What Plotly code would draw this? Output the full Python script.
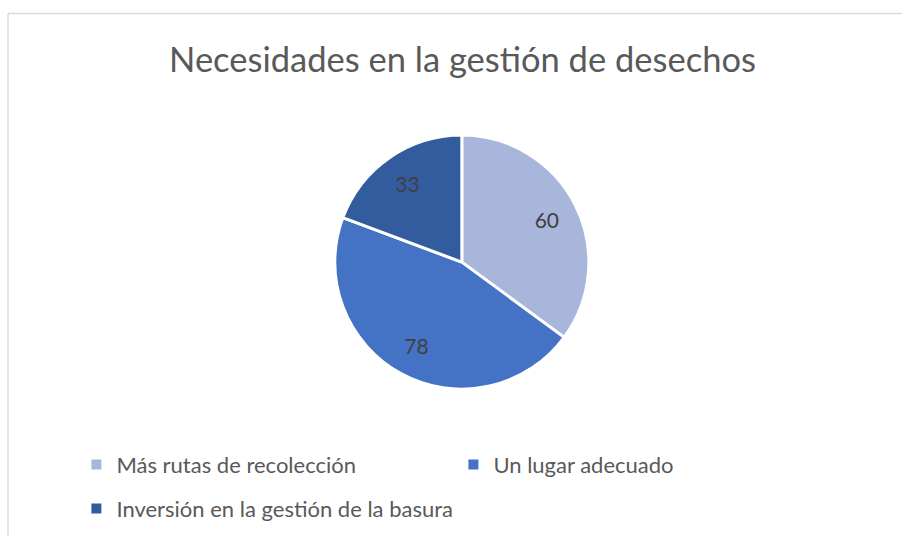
import plotly.graph_objects as go

categories = ["Más rutas de recolección", "Un lugar adecuado", "Inversión en la gestión de la basura"]
values = [60, 78, 33]
colors = ["#A9B6DC", "#4473C5", "#335C9F"]

pie_domain = dict(x=[0.3710, 0.6530], y=[0.274, 0.748])

fig = go.Figure()
# Filled slices
fig.add_trace(go.Pie(
    labels=categories, values=values, sort=False,
    direction="clockwise", rotation=0,
    marker=dict(colors=colors, line=dict(color="white", width=3)),
    textinfo="none", domain=pie_domain, showlegend=False,
    hoverinfo="label+value",
))
# Data labels (transparent ring so labels sit further from the centre, like Excel)
fig.add_trace(go.Pie(
    labels=categories, values=values, sort=False,
    direction="clockwise", rotation=0, hole=0.5,
    marker=dict(colors=["rgba(0,0,0,0)"] * len(values), line=dict(width=0)),
    textinfo="value", textposition="inside",
    insidetextorientation="horizontal",
    textfont=dict(family="Lato", size=21, color="#404040"),
    domain=pie_domain, showlegend=False, hoverinfo="skip",
))
# Legend entries
legend_ids = ["legend", "legend", "legend2"]
for name, col, lg in zip(categories, colors, legend_ids):
    fig.add_trace(go.Scatter(
        x=[None], y=[None], mode="markers", name=name,
        marker=dict(symbol="square", size=10, color=col),
        legend=lg, showlegend=True,
    ))

legend_font = dict(family="Lato", size=22, color="#595959")
legend_x = 0.0847
fig.update_layout(
    width=902, height=536,
    margin=dict(l=0, r=0, t=0, b=0),
    paper_bgcolor="white",
    plot_bgcolor="white",
    xaxis=dict(visible=False), yaxis=dict(visible=False),
    title=dict(text="Necesidades en la gestión de desechos",
               font=dict(family="Lato", size=34.5, color="#595959"),
               x=462.5 / 902, xanchor="center", y=0.888, yanchor="middle"),
    showlegend=True,
    legend=dict(orientation="h", x=legend_x, xanchor="left", y=0.172, yanchor="top",
                font=legend_font, entrywidth=332, entrywidthmode="pixels",
                itemsizing="trace", traceorder="normal", bgcolor="rgba(0,0,0,0)"),
    legend2=dict(orientation="h", x=legend_x, xanchor="left", y=0.172 - 44 / 536, yanchor="top",
                 font=legend_font, itemsizing="trace", bgcolor="rgba(0,0,0,0)"),
    shapes=[
        dict(type="line", xref="paper", yref="paper", x0=8/902, x1=1, y0=1-13.5/536, y1=1-13.5/536,
             line=dict(color="#D9D9D9", width=1.5)),
        dict(type="line", xref="paper", yref="paper", x0=8/902, x1=8/902, y0=0, y1=1-13.5/536,
             line=dict(color="#D9D9D9", width=1.5)),
    ],
)

fig.write_html("out.html", config={"displayModeBar": False},
               post_script="document.body.style.margin='0';")
